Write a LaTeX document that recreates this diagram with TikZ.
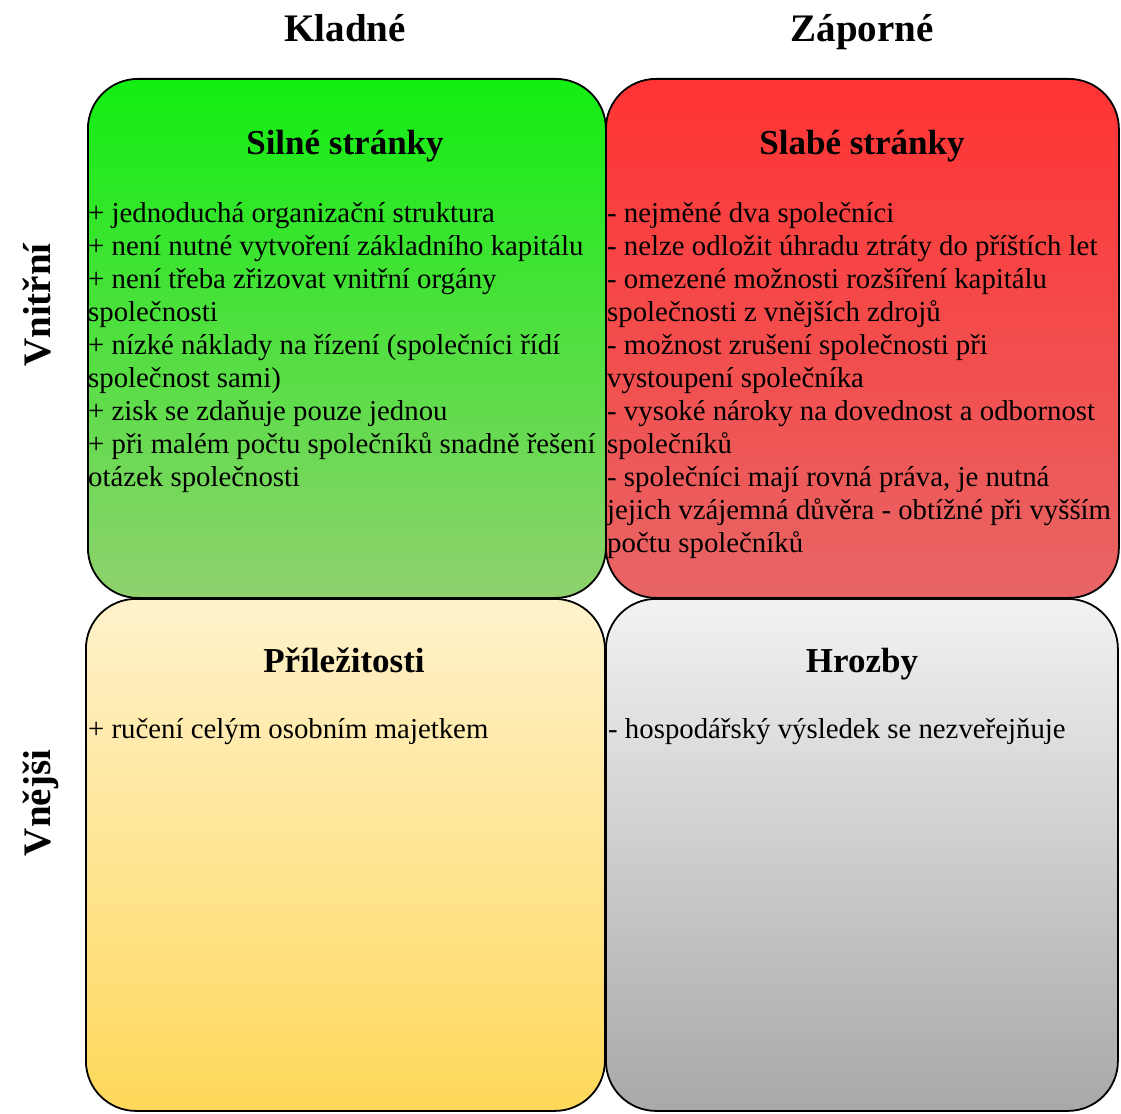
\documentclass[tikz,border=0pt]{standalone}
\usepackage{fontspec}
\setmainfont{Liberation Serif}
\definecolor{gtop}{RGB}{18,238,18}
\definecolor{gbot}{RGB}{143,209,110}
\definecolor{rtop}{RGB}{255,51,51}
\definecolor{rbot}{RGB}{232,101,101}
\definecolor{ytop}{RGB}{255,242,204}
\definecolor{ybot}{RGB}{255,216,90}
\definecolor{ktop}{RGB}{242,242,242}
\definecolor{kbot}{RGB}{168,168,168}
\tikzset{
  quad/.style={draw=black, line width=1.8pt, rounded corners=50pt, rectangle,
    inner sep=0pt, anchor=north west},
  head/.style={font=\fontsize{39}{44}\selectfont\bfseries, anchor=base, inner sep=0pt},
  ttl/.style={font=\fontsize{35}{40}\selectfont\bfseries, anchor=base, inner sep=0pt},
  body/.style={font=\fontsize{28.8}{33}\selectfont, align=left, anchor=base west, inner sep=0pt},
}
\begin{document}
\begin{tikzpicture}[x=1pt,y=-1pt]
\useasboundingbox (0,0) rectangle (1121,1113);
% quadrants
\node[quad, top color=gtop, bottom color=gbot, minimum width=518pt, minimum height=519pt] (sw) at (87,78) {};
\node[quad, top color=rtop, bottom color=rbot, minimum width=513pt, minimum height=519pt] (we) at (605,78) {};
\node[quad, top color=ytop, bottom color=ybot, minimum width=519pt, minimum height=512pt] (op) at (85,598) {};
\node[quad, top color=ktop, bottom color=kbot, minimum width=512pt, minimum height=512pt] (th) at (605,598) {};
% headers
\node[head] (kl) at (345,42) {Kladné};
\node[head] (za) at (862,42) {Záporné};
\node[head, rotate=90] (vn) at (50,305) {Vnitřní};
\node[head, rotate=90] (ve) at (50,803) {Vnějši};
% titles
\node[ttl] (t1) at (345,154) {Silné stránky};
\node[ttl] (t2) at (862,154) {Slabé stránky};
\node[ttl] (t3) at (344,672) {Příležitosti};
\node[ttl] (t4) at (862,672) {Hrozby};
% bodies (anchored at the baseline of the last line)
\node[body] (b1) at (88,486) {+ jednoduchá organizační struktura\\
+ není nutné vytvoření základního kapitálu\\
+ není třeba zřizovat vnitřní orgány\\
společnosti\\
+ nízké náklady na řízení (společníci řídí\\
společnost sami)\\
+ zisk se zdaňuje pouze jednou\\
+ při malém počtu společníků snadně řešení\\
otázek společnosti};
\node[body] (b2) at (607,552) {- nejměné dva společníci\\
- nelze odložit úhradu ztráty do příštích let\\
- omezené možnosti rozšíření kapitálu\\
společnosti z vnějších zdrojů\\
- možnost zrušení společnosti při\\
vystoupení společníka\\
- vysoké nároky na dovednost a odbornost\\
společníků\\
- společníci mají rovná práva, je nutná\\
jejich vzájemná důvěra - obtížné při vyšším\\
počtu společníků};
\node[body] (b3) at (88,738) {+ ručení celým osobním majetkem};
\node[body] (b4) at (608,738) {- hospodářský výsledek se nezveřejňuje};
\end{tikzpicture}
\end{document}
